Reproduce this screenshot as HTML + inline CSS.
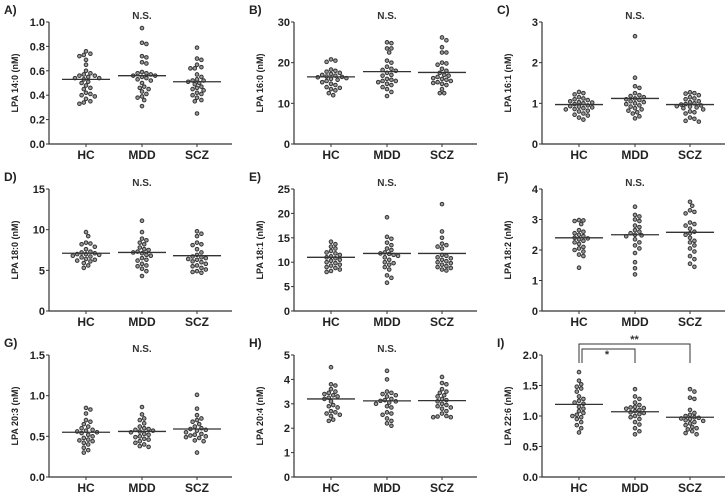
<!DOCTYPE html>
<html><head><meta charset="utf-8"><style>
html,body{margin:0;padding:0;background:#fff;}
svg{display:block;font-family:"Liberation Sans",sans-serif;}
</style></head><body>
<svg id="fig" width="728" height="493" viewBox="0 0 728 493"></svg>
<script>
const groups = ["HC","MDD","SCZ"];
const panelLetters = ["A)","B)","C)","D)","E)","F)","G)","H)","I)"];
const yTitles = ["LPA 14:0 (nM)","LPA 16:0 (nM)","LPA 16:1 (nM)","LPA 18:0 (nM)","LPA 18:1 (nM)","LPA 18:2 (nM)","LPA 20:3 (nM)","LPA 20:4 (nM)","LPA 22:6 (nM)"];
const yMax = [1.0,30,3,15,25,4,1.5,5,2.0];
const yTicks = [
 ["0.0","0.2","0.4","0.6","0.8","1.0"],["0","10","20","30"],["0","1","2","3"],
 ["0","5","10","15"],["0","5","10","15","20","25"],["0","1","2","3","4"],
 ["0.0","0.5","1.0","1.5"],["0","1","2","3","4","5"],["0.0","0.5","1.0","1.5","2.0"]];
const medians = [[0.53,0.56,0.51],[16.5,17.8,17.6],[0.97,1.12,0.97],[7.1,7.2,6.8],[11.0,11.8,11.8],[2.4,2.5,2.58],[0.55,0.56,0.59],[3.2,3.12,3.13],[1.19,1.07,0.98]];
const valsHC = [
 [0.76,0.74,0.73,0.72,0.69,0.65,0.60,0.58,0.57,0.56,0.56,0.55,0.54,0.54,0.53,0.51,0.50,0.48,0.46,0.45,0.42,0.41,0.40,0.39,0.37,0.35,0.34,0.33],
 [20.8,20.5,20.2,18.3,18,17.8,17.5,17.2,17,16.8,16.6,16.5,16.4,16.2,16,15.8,15.5,15.2,14.8,14.5,14,13.8,13.5,13.2,12.5,12],
 [1.28,1.25,1.22,1.15,1.12,1.10,1.08,1.05,1.03,1.02,1.0,0.98,0.95,0.93,0.92,0.9,0.88,0.86,0.85,0.82,0.8,0.75,0.72,0.7,0.65,0.6],
 [9.7,9.2,8.4,8.3,8.2,7.9,7.6,7.3,7.2,7.1,7.0,7.0,6.9,6.8,6.7,6.6,6.4,6.3,6.2,6.1,5.9,5.6,5.3],
 [14.2,13.7,13.2,12.8,12.3,12,11.8,11.5,11.2,11,10.8,10.5,10.3,10,9.8,9.5,9.3,9,8.8,8.5,8.2,8],
 [2.98,2.97,2.95,2.85,2.65,2.6,2.55,2.5,2.45,2.4,2.38,2.35,2.3,2.25,2.2,2.1,2.05,2.0,1.95,1.85,1.8,1.42],
 [0.85,0.83,0.78,0.70,0.68,0.65,0.62,0.60,0.58,0.57,0.56,0.55,0.54,0.52,0.50,0.48,0.46,0.45,0.44,0.42,0.40,0.36,0.33,0.30],
 [4.5,3.8,3.75,3.6,3.5,3.45,3.4,3.35,3.3,3.25,3.2,3.1,2.95,2.9,2.85,2.7,2.65,2.6,2.55,2.5,2.35,2.3],
 [1.72,1.58,1.52,1.48,1.45,1.4,1.32,1.28,1.25,1.22,1.2,1.15,1.12,1.08,1.05,1.02,1.0,0.98,0.95,0.9,0.85,0.8,0.73]];
const valsMDD = [
 [0.95,0.83,0.82,0.72,0.71,0.67,0.66,0.59,0.58,0.58,0.57,0.56,0.56,0.55,0.54,0.53,0.52,0.50,0.47,0.46,0.45,0.43,0.41,0.39,0.38,0.36,0.31],
 [25,24.8,23.5,23.5,22.5,20.5,20,19,18.5,18.2,18,17.5,17,16.8,16,15.8,15.5,15.5,15.2,14.8,14.5,14,13.5,12.8,11.8],
 [2.65,1.63,1.42,1.38,1.25,1.2,1.18,1.15,1.12,1.1,1.08,1.05,1.03,1.0,0.98,0.95,0.92,0.88,0.85,0.82,0.78,0.75,0.68,0.63],
 [11.1,9.7,8.9,8.7,8.4,8.2,7.8,7.6,7.5,7.3,7.2,7.1,6.9,6.8,6.5,6.3,6.2,5.8,5.6,5.5,5.2,4.9,4.3],
 [19.2,15.2,14.8,14,13.5,12.8,12.5,12,11.8,11.7,11.5,11.3,11,10.5,10,9.8,9.5,9,8.5,7.3,6.8,5.8],
 [3.42,3.15,3.1,3.0,2.95,2.8,2.75,2.65,2.6,2.55,2.5,2.48,2.45,2.35,2.25,2.15,2.05,1.9,1.6,1.4,1.2],
 [0.86,0.77,0.72,0.70,0.66,0.62,0.60,0.59,0.58,0.57,0.56,0.55,0.53,0.52,0.50,0.49,0.47,0.46,0.44,0.42,0.40,0.38,0.37],
 [4.35,4.0,3.5,3.45,3.4,3.35,3.3,3.2,3.15,3.12,3.1,3.05,3.0,2.9,2.85,2.65,2.6,2.55,2.4,2.3,2.2,2.1],
 [1.44,1.32,1.28,1.22,1.18,1.15,1.14,1.13,1.12,1.1,1.08,1.06,1.05,1.03,1.0,0.98,0.95,0.9,0.86,0.8,0.75,0.7]];
const valsSCZ = [
 [0.79,0.70,0.69,0.65,0.63,0.62,0.62,0.57,0.55,0.53,0.52,0.52,0.51,0.50,0.49,0.47,0.46,0.45,0.44,0.42,0.41,0.40,0.38,0.36,0.35,0.25],
 [26.2,25.5,23.8,22.5,22.5,20,19.8,19.5,18.5,18,17.5,17,16.8,16.5,16.2,16,15.8,15.5,15.2,15,14.8,14.5,13.5,12.5,12.5],
 [1.27,1.25,1.24,1.2,1.15,1.12,1.1,1.05,1.03,1.0,0.98,0.97,0.95,0.93,0.92,0.9,0.88,0.85,0.8,0.78,0.75,0.65,0.62,0.57,0.55],
 [9.8,9.5,9.2,8.4,8.2,8.1,7.6,7.2,6.9,6.7,6.6,6.5,6.4,6.3,6.1,6.0,5.8,5.6,5.5,5.3,5.1,4.9,4.8,4.7],
 [21.9,16.3,15,13.8,13.5,13.2,12.8,11.5,11.3,11,10.8,10.5,10.2,10,9.8,9.5,9.2,9,8.8,8.5,8.3],
 [3.58,3.45,3.3,3.25,3.2,2.9,2.85,2.8,2.7,2.6,2.55,2.5,2.4,2.3,2.25,2.15,2.05,1.95,1.8,1.7,1.55,1.45],
 [1.01,0.84,0.76,0.72,0.70,0.68,0.65,0.62,0.60,0.59,0.58,0.57,0.55,0.53,0.52,0.51,0.50,0.49,0.48,0.45,0.44,0.30],
 [4.1,3.85,3.8,3.6,3.5,3.45,3.35,3.3,3.2,3.15,3.1,3.0,2.95,2.9,2.85,2.8,2.7,2.6,2.5,2.48,2.45,2.45],
 [1.44,1.4,1.3,1.28,1.1,1.05,1.02,1.0,0.98,0.97,0.96,0.95,0.93,0.92,0.9,0.88,0.85,0.82,0.8,0.78,0.75,0.72,0.7]];
const annotations = ["N.S.","N.S.","N.S.","N.S.","N.S.","N.S.","N.S.","N.S.",""];

const NS = "http://www.w3.org/2000/svg";
const svg = document.getElementById("fig");
function mk(tag, attrs, parent, text){
  const e = document.createElementNS(NS, tag);
  for (const k in attrs) e.setAttribute(k, attrs[k]);
  if (text !== undefined) e.textContent = text;
  (parent||svg).appendChild(e);
  return e;
}
const colX = [49, 294, 542];
const rowTop = [22, 189, 355];
const PH = 122, PW = 183;
const grpOff = [37, 93, 148];
const allVals = [valsHC, valsMDD, valsSCZ];

for (let p = 0; p < 9; p++) {
  const ax = colX[p % 3], top = rowTop[Math.floor(p / 3)], bot = top + PH;
  const yScale = v => bot - (v / yMax[p]) * PH;
  const g = mk("g", {});
  
  
  const lt = mk("text", {x: ax - 45, y: top - 8, "font-size": 12, "font-weight": "bold", fill: "#222"}, g, panelLetters[p]);
  
  
  const yt = mk("text", {x: 0, y: 0, "font-size": 9, "font-weight": "bold", fill: "#222", "text-anchor": "middle",
    transform: `translate(${ax - 31},${(top + bot) / 2}) rotate(-90)`}, g, yTitles[p]);
  
  
  const axes = mk("path", {d: `M${ax},${top} V${bot} H${ax + PW}`, stroke: "#333", "stroke-width": 1.2, fill: "none"}, g);
  
  
  const ticks = yTicks[p];
  ticks.forEach(t => {
    const y = yScale(parseFloat(t));
    mk("line", {x1: ax - 3, x2: ax, y1: y, y2: y, stroke: "#333", "stroke-width": 1}, g);
    const tl = mk("text", {x: ax - 4, y: y + 4, "font-size": 11, "font-weight": "bold", fill: "#222", "text-anchor": "end"}, g, t);
    
    
  });
  groups.forEach((gn, gi) => {
    const cx = ax + grpOff[gi];
    mk("line", {x1: cx, x2: cx, y1: bot, y2: bot + 3, stroke: "#333", "stroke-width": 1}, g);
    const xl = mk("text", {x: cx, y: bot + 15, "font-size": 12, "font-weight": "bold", fill: "#222", "text-anchor": "middle"}, g, gn);
    
    
    const vals = allVals[gi][p].slice().sort((a, b) => b - a);
    const placed = [];
    const r = 1.8, minD = 4.2;
    vals.forEach(v => {
      const y = yScale(v);
      let x = cx;
      for (let k = 0; k < 40; k++) {
        const off = (k === 0) ? 0 : (k % 2 ? 1 : -1) * Math.ceil(k / 2) * 2.2;
        const tx = cx + off;
        if (placed.every(q => Math.hypot(q[0] - tx, q[1] - y) >= minD)) { x = tx; break; }
      }
      placed.push([x, y]);
      const c = mk("circle", {cx: x, cy: y, r: r, fill: "#9a9a9a", stroke: "#333", "stroke-width": 1}, g);
      
      
    });
    const my = yScale(medians[p][gi]);
    const ml = mk("line", {x1: cx - 24, x2: cx + 24, y1: my, y2: my, stroke: "#333", "stroke-width": 1.3}, g);
    
    
  });
  if (annotations[p]) {
    const ns = mk("text", {x: ax + grpOff[1], y: top - 3, "font-size": 10, "font-weight": "bold", fill: "#333", "text-anchor": "middle"}, g, annotations[p]);
    
    
  } else {
    const hx = ax + grpOff[0], mx = ax + grpOff[1], sx = ax + grpOff[2];
    const b1 = mk("path", {d: `M${hx},${top + 8} V${top - 11} H${sx} V${top + 8}`, stroke: "#333", "stroke-width": 1, fill: "none"}, g);
    
    
    const b2 = mk("path", {d: `M${hx + 3},${top + 8} V${top - 6} H${mx} V${top + 8}`, stroke: "#333", "stroke-width": 1, fill: "none"}, g);
    
    
    const s1 = mk("text", {x: (hx + sx) / 2, y: top - 12, "font-size": 11, "font-weight": "bold", fill: "#333", "text-anchor": "middle"}, g, "**");
    
    
    const s2 = mk("text", {x: (hx + mx) / 2, y: top + 3, "font-size": 11, "font-weight": "bold", fill: "#333", "text-anchor": "middle"}, g, "*");
    
    
  }
}
</script>
</body></html>
